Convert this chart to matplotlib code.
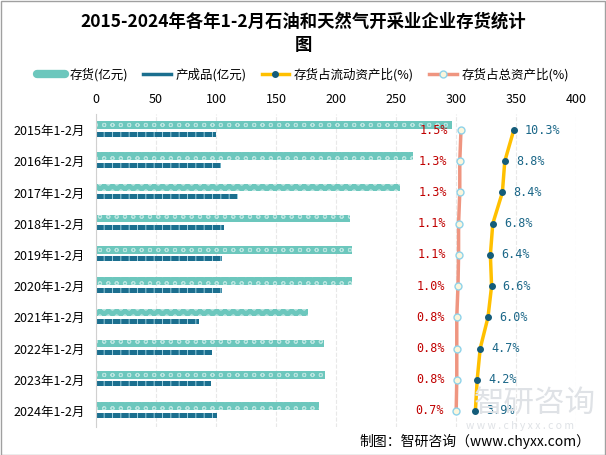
import matplotlib.pyplot as plt
from matplotlib.lines import Line2D
import numpy as np

plt.rcParams['font.family'] = ['Noto Sans CJK SC', 'DejaVu Sans']
plt.rcParams['hatch.linewidth'] = 0.7

# data
years = ['2015年1-2月', '2016年1-2月', '2017年1-2月', '2018年1-2月', '2019年1-2月',
         '2020年1-2月', '2021年1-2月', '2022年1-2月', '2023年1-2月', '2024年1-2月']
inventory = [297, 264, 253, 212, 213, 213, 177, 190, 191, 186]
products = [100, 104, 118, 107, 105, 105, 86, 97, 96, 101]
ratio_current = [10.3, 8.8, 8.4, 6.8, 6.4, 6.6, 6.0, 4.7, 4.2, 3.9]
ratio_total = [1.5, 1.3, 1.3, 1.1, 1.1, 1.0, 0.8, 0.8, 0.8, 0.7]

teal = '#6cc7bd'
dark_blue = '#1b6f8f'
gold = '#ffc000'
salmon = '#ef9580'

fig = plt.figure(figsize=(6.06, 4.55), dpi=100)
ax = fig.add_axes([96/606, 1-426.6/455, 480/606, 312.2/455])

y = np.arange(len(years))
ax.barh(y - 0.16, inventory, height=0.24, color=teal, edgecolor='#b8e4df',
        hatch='oo', linewidth=0)
ax.barh(y + 0.13, products, height=0.16, color=dark_blue, edgecolor='#9dd0e0',
        hatch='||', linewidth=0)

# secondary axis for ratios
ax2 = ax.twiny()
ax2.set_xlim(-59.33, 20.67)
ax2.set_ylim(9.5, -0.5)
ax2.axis('off')

ax.set_xlim(0, 400)
ax.set_ylim(9.5, -0.5)
ax.set_xticks([0, 50, 100, 150, 200, 250, 300, 350, 400])
ax.xaxis.tick_top()
ax.tick_params(axis='x', length=0, labelsize=9, pad=6, labeltop=True, labelbottom=False)
ax.set_yticks(y)
ax.set_yticklabels(years)
ax.tick_params(axis='y', length=0, labelsize=9, pad=8)
ax.grid(axis='x', color='#e8e8e8', linestyle='--', linewidth=0.8)
ax.set_axisbelow(True)
for s in ['top', 'right', 'bottom']:
    ax.spines[s].set_visible(False)
ax.spines['left'].set_color('#d0d0d0')

ax2.plot(ratio_total, y, color=salmon, lw=2.5, marker='o', markersize=5,
         markerfacecolor='#fbf6dc', markeredgecolor='#8fd3ea', markeredgewidth=1, zorder=3)
ax2.plot(ratio_current, y, color=gold, lw=2.5, marker='o', markersize=4,
         markerfacecolor='#145c7a', markeredgecolor='#145c7a', zorder=3)
for yi, v in zip(y, ratio_total):
    ax2.annotate(f'{v:.1f}%', (v, yi), xytext=(-9, 0), textcoords='offset points',
                 ha='right', va='center', color='#c00000', fontsize=8.5, family='DejaVu Sans Mono')
for yi, v in zip(y, ratio_current):
    ax2.annotate(f'{v:.1f}%', (v, yi), xytext=(8, 0), textcoords='offset points',
                 ha='left', va='center', color='#1b6788', fontsize=8.5, family='DejaVu Sans Mono')

# title
fig.text(0.5, 1-22/455, '2015-2024年各年1-2月石油和天然气开采业企业存货统计', ha='center', va='center',
         fontsize=12.5, fontweight='bold')
fig.text(0.5, 1-45/455, '图', ha='center', va='center', fontsize=12.5, fontweight='bold')

# legend
handles = [
    Line2D([], [], color=teal, lw=6, solid_capstyle='round'),
    Line2D([], [], color=dark_blue, lw=2.5),
    Line2D([], [], color=gold, lw=2.5, marker='o', markersize=4,
           markerfacecolor='#145c7a', markeredgecolor='#145c7a'),
    Line2D([], [], color=salmon, lw=2.5, marker='o', markersize=5,
           markerfacecolor='#fbf6dc', markeredgecolor='#8fd3ea'),
]
labels = ['存货(亿元)', '产成品(亿元)', '存货占流动资产比(%)', '存货占总资产比(%)']
fig.legend(handles, labels, loc='center', bbox_to_anchor=(0.5, 1-75/455), ncol=4,
           frameon=False, fontsize=9, handlelength=2.2, handletextpad=0.4, columnspacing=1.2)

# watermark and source
fig.text(535/606, 1-403/455, '智研咨询', ha='center', va='center', fontsize=22,
         color='#dfe2e6', zorder=0)
fig.text(520/606, 1-426/455, 'w w w . c h y x x . c o m', ha='center', va='center', fontsize=7.5,
         color='#dfe2e6', zorder=0)
fig.text(590/606, 1-441/455, '制图：智研咨询（www.chyxx.com）', ha='right', va='center', fontsize=10)

fig.patches.append(plt.Rectangle((0.001, 0.001), 0.997, 0.997, transform=fig.transFigure,
                                 fill=False, edgecolor='#a0a0a0', linewidth=1))

fig.savefig('out.png', dpi=100)
